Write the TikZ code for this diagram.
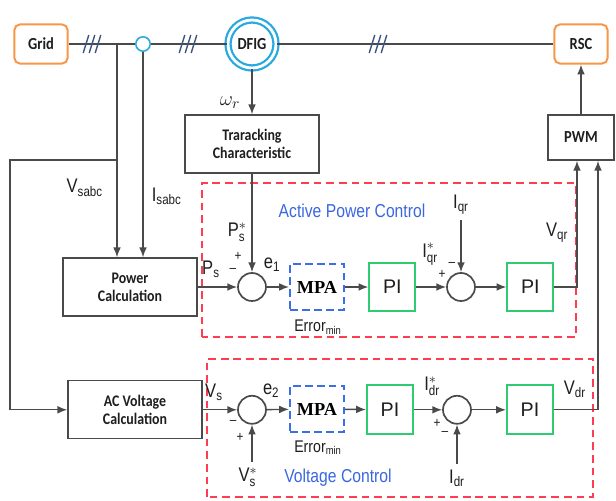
\documentclass[tikz,border=0pt]{standalone}
\usepackage{fontspec}
\setmainfont{Liberation Sans}[FakeStretch=0.84]
\newfontfamily\boxfont{Carlito}[FakeStretch=0.86]
\newfontfamily\pifont{Liberation Sans}
\newfontfamily\serfont{Liberation Serif}
\usetikzlibrary{arrows.meta}
\definecolor{ink}{HTML}{1E1E1E}
\definecolor{wire}{HTML}{4A4A4A}
\definecolor{amber}{HTML}{F79646}
\definecolor{ring}{HTML}{2AA9E0}
\definecolor{redash}{HTML}{FF3D52}
\definecolor{bluedash}{HTML}{3B6FE3}
\definecolor{pigreen}{HTML}{2FCB72}
\definecolor{caption}{HTML}{3A66E0}
\definecolor{slashc}{HTML}{3A5680}
\newcommand{\refsym}[2]{#1$^{*}_{\mbox{\fontsize{9.8}{10}\selectfont #2}}$}

\begin{document}
\begin{tikzpicture}[font=\fontsize{14}{15}\selectfont,color=wire,text=ink,
  >={Latex[length=7pt,width=5.5pt]},line width=1pt,
  source/.style={draw=amber,line width=1.4pt,rounded corners=4pt,
    minimum width=1.33cm,minimum height=0.98cm,
    font=\boxfont\bfseries\fontsize{12}{13}\selectfont},
  calcbox/.style={draw=wire,line width=1pt,minimum width=3.35cm,
    minimum height=1.45cm,align=center,
    font=\boxfont\bfseries\fontsize{11.5}{13}\selectfont},
  pibox/.style={draw=pigreen,line width=1.4pt,minimum width=1.15cm,
    minimum height=1.22cm,font=\pifont\fontsize{14}{15}\selectfont},
  mpabox/.style={draw=bluedash,line width=1.4pt,dash pattern=on 5.5pt off 3pt,
    minimum width=1.35cm,minimum height=1.15cm,text=black,
    font=\serfont\bfseries\fontsize{13}{14}\selectfont},
  sumnode/.style={draw=wire,circle,line width=1.2pt,minimum size=0.7cm,
    inner sep=0pt},
  region/.style={draw=redash,line width=1.1pt,dash pattern=on 5.5pt off 3.5pt},
  sign/.style={font=\fontsize{10}{10}\selectfont,inner sep=0pt},
  title/.style={text=caption,font=\fontsize{13.3}{14}\selectfont},
  errlabel/.style={font=\fontsize{12}{13}\selectfont},
  slash/.style={draw=slashc,line width=1pt}]
  \useasboundingbox (0,0) rectangle (15.4,12.525);

  \draw[region] (5.05,4.1) rectangle (14.4,7.95);
  \draw[region] (5.175,0.1) rectangle (14.825,3.55);

  \node[source] (grid) at (1.025,11.425) {Grid};
  \node[source] (rsc) at (14.525,11.425) {RSC};
  \node[circle,draw=ring,line width=1.6pt,double=white,double distance=2pt,
    minimum size=1.2cm,inner sep=0pt,font=\boxfont\bfseries\fontsize{12}{13}\selectfont]
    (dfig) at (6.3,11.425) {DFIG};
  \node[circle,draw=ring,line width=1.1pt,minimum width=0.28cm,
    minimum height=0.36cm,inner sep=0pt] (pcc) at (3.575,11.425) {};
  \coordinate (tap) at (2.925,11.425);
  \coordinate (split) at (2.925,8.525);

  \draw (grid) -- (pcc) -- (dfig) -- (rsc);
  \foreach \sx in {2.3,4.7,9.45}
    \foreach \d in {-0.15,0,0.15}
      \draw[slash] (\sx+\d-0.07,11.2) -- (\sx+\d+0.07,11.65);

  \node[calcbox] (track) at (6.3,8.925) {Traracking\\Characteristic};
  \node[draw=wire,line width=1.1pt,minimum width=1.65cm,minimum height=1.125cm,
    font=\boxfont\bfseries\fontsize{12}{13}\selectfont] (pwm) at (14.525,9.0875) {PWM};
  \node[font=\fontsize{15}{16}\selectfont] (wr) at (5.75,9.97) {$\omega_r$};
  \draw[->] (dfig) -- (track);
  \draw[->] (pwm) -- (rsc);

  \node[calcbox] (pc) at (3.25,5.35) {Power\\Calculation};
  \node[calcbox] (acv) at (3.375,2.28) {AC Voltage\\Calculation};
  \node[anchor=west,inner sep=0pt] (vsabc) at (1.65,7.83) {V\textsubscript{sabc}};
  \node[anchor=west,inner sep=0pt] (isabc) at (3.78,7.62) {I\textsubscript{sabc}};
  \draw[->] (tap) -- (tap |- pc.north);
  \draw[->] (pcc) -- (pcc |- pc.north);
  \draw[->] (split) -- (0.25,8.525) |- (acv);

  \node[title] (aptitle) at (8.8,7.25) {Active Power Control};
  \node[sumnode] (sum1) at (6.3,5.35) {};
  \node[mpabox] (mpa1) at (7.925,5.35) {MPA};
  \node[errlabel] (err1) at (7.95,4.35) {Error\textsubscript{min}};
  \node[pibox] (pi1) at (9.81,5.35) {PI};
  \node[sumnode] (sum2) at (11.525,5.35) {};
  \node[pibox] (pi2) at (13.26,5.35) {PI};
  \node (ps) at (5.275,5.8) {P\textsubscript{s}};
  \node[anchor=east,inner sep=1pt] (psref) at (6.22,6.72) {\refsym{P}{s}};
  \node (e1) at (6.8,5.9) {e\textsubscript{1}};
  \node[anchor=east,inner sep=1pt] (iqrref) at (11.0,6.17) {\refsym{I}{qr}};
  \node (iqr) at (11.525,7.4) {I\textsubscript{qr}};
  \node (vqr) at (13.93,6.7) {V\textsubscript{qr}};
  \node[sign] (s1p) at (5.95,6.125) {+};
  \node[sign] (s1m) at (5.82,5.76) {--};
  \node[sign] (s2p) at (11.05,5.66) {+};
  \node[sign] (s2m) at (11.3,5.92) {--};
  \draw[->] (track) -- (sum1);
  \draw[->] (pc) -- (sum1);
  \draw[->] (sum1) -- (mpa1);
  \draw[->] (mpa1) -- (pi1);
  \draw[->] (pi1) -- (sum2);
  \draw[->] (iqr.south -| sum2) -- (sum2);
  \draw[->] (sum2) -- (pi2);
  \draw[->] (pi2) -| ([xshift=-0.1cm]pwm.south);

  \node[title] (vctitle) at (8.45,0.575) {Voltage Control};
  \node[sumnode] (sum3) at (6.3,2.28) {};
  \node[mpabox] (mpa2) at (7.925,2.3) {MPA};
  \node[errlabel] (err2) at (7.95,1.33) {Error\textsubscript{min}};
  \node[pibox] (pi3) at (9.75,2.28) {PI};
  \node[sumnode] (sum4) at (11.425,2.28) {};
  \node[pibox] (pi4) at (13.25,2.28) {PI};
  \node (vs) at (5.35,2.72) {V\textsubscript{s}};
  \node (vsref) at (6.2,0.6) {\refsym{V}{s}};
  \node (e2) at (6.78,2.75) {e\textsubscript{2}};
  \node[anchor=east,inner sep=1pt] (idrref) at (11.05,2.87) {\refsym{I}{dr}};
  \node (idr) at (11.425,0.575) {I\textsubscript{dr}};
  \node (vdr) at (14.37,2.8) {V\textsubscript{dr}};
  \node[sign] (s3m) at (5.83,1.97) {--};
  \node[sign] (s3p) at (6.0,1.6) {+};
  \node[sign] (s4p) at (10.925,1.95) {+};
  \node[sign] (s4m) at (11.125,1.7) {--};
  \draw[->] (acv) -- (sum3);
  \draw[->] (vsref.north -| sum3) -- (sum3);
  \draw[->] (sum3) -- (mpa2);
  \draw[->] (mpa2) -- (pi3);
  \draw[->] (pi3) -- (sum4);
  \draw[->] (idr.north -| sum4) -- (sum4);
  \draw[->] (sum4) -- (pi4);
  \draw[->] (pi4) -| ([xshift=0.425cm]pwm.south);
\end{tikzpicture}
\end{document}
